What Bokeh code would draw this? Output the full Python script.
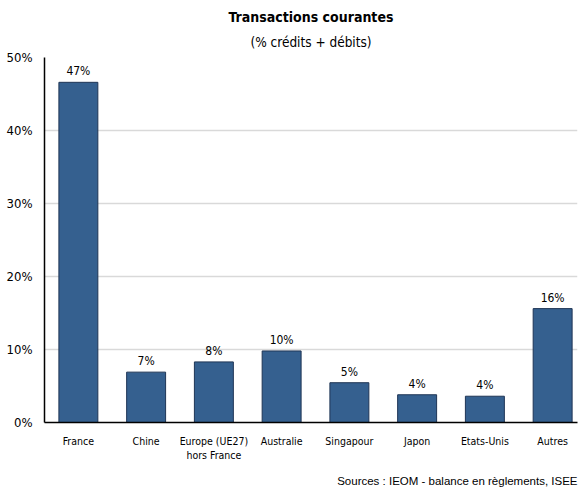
from bokeh.plotting import figure
from bokeh.models import Range1d, FixedTicker, Title, ColumnDataSource
from bokeh.core.properties import value
from bokeh.embed import file_html
from bokeh.resources import INLINE

categories = ["France", "Chine", "Europe (UE27)\nhors France", "Australie",
              "Singapour", "Japon", "Etats-Unis", "Autres"]
shares = [46.6, 6.9, 8.3, 9.8, 5.45, 3.8, 3.6, 15.6]
share_labels = ["47%", "7%", "8%", "10%", "5%", "4%", "4%", "16%"]
y_ticks = [0, 10, 20, 30, 40, 50]

title_text = "Transactions courantes"
subtitle_text = "(% crédits + débits)"
source_text = "Sources : IEOM - balance en règlements, ISEE"

NARROW = "DejaVu Sans Condensed"

idx = list(range(len(categories)))
src = ColumnDataSource(dict(x=idx, top=shares, lab=share_labels))

p = figure(width=581, height=496, output_backend="svg", toolbar_location=None,
           x_range=Range1d(-0.5, 7.367), y_range=Range1d(0, 50),
           min_border_left=44, min_border_right=4, min_border_top=57,
           min_border_bottom=10)
p.outline_line_color = None
p.background_fill_color = "white"
p.border_fill_color = "white"

p.vbar(x="x", top="top", width=0.575, source=src,
       fill_color="#35608f", line_color="#1f3555", line_width=1)

p.text(x="x", y="top", text="lab", source=src, text_align="center",
       text_baseline="bottom", y_offset=-4, text_font=value(NARROW),
       text_font_size="12px", text_color="black")

# titles (subtitle first so it sits closest to the frame)
p.add_layout(Title(text=subtitle_text, align="center", text_font=NARROW,
                   text_font_style="normal", text_font_size="13.5px",
                   text_color="black", standoff=15), "above")
p.add_layout(Title(text=title_text, align="center", text_font=NARROW,
                   text_font_style="bold", text_font_size="14px",
                   text_color="black", standoff=0), "above")
p.add_layout(Title(text=source_text, align="right", text_font="Liberation Sans",
                   text_font_style="normal", text_font_size="11.5px",
                   text_color="black", standoff=19), "below")

# axes
p.xaxis.ticker = FixedTicker(ticks=idx)
p.xaxis.major_label_overrides = {i: c for i, c in enumerate(categories)}
p.xaxis.major_tick_line_color = None
p.xaxis.minor_tick_line_color = None
p.xaxis.axis_line_color = "black"
p.xaxis.axis_line_width = 1.5
p.xaxis.major_label_text_font = NARROW
p.xaxis.major_label_text_font_size = "10.5px"
p.xaxis.major_label_text_color = "black"
p.xaxis.major_label_standoff = 6

p.yaxis.ticker = FixedTicker(ticks=y_ticks)
p.yaxis.major_label_overrides = {t: f"{t}%" for t in y_ticks}
p.yaxis.major_tick_line_color = None
p.yaxis.minor_tick_line_color = None
p.yaxis.axis_line_color = "black"
p.yaxis.axis_line_width = 1.5
p.yaxis.major_label_text_font = NARROW
p.yaxis.major_label_text_font_size = "13px"
p.yaxis.major_label_text_color = "black"
p.yaxis.major_label_standoff = 6

p.xgrid.grid_line_color = None
p.ygrid.grid_line_color = "#d9d9d9"
p.ygrid.grid_line_width = 1.5

open("out.html", "w").write(file_html(p, INLINE))
